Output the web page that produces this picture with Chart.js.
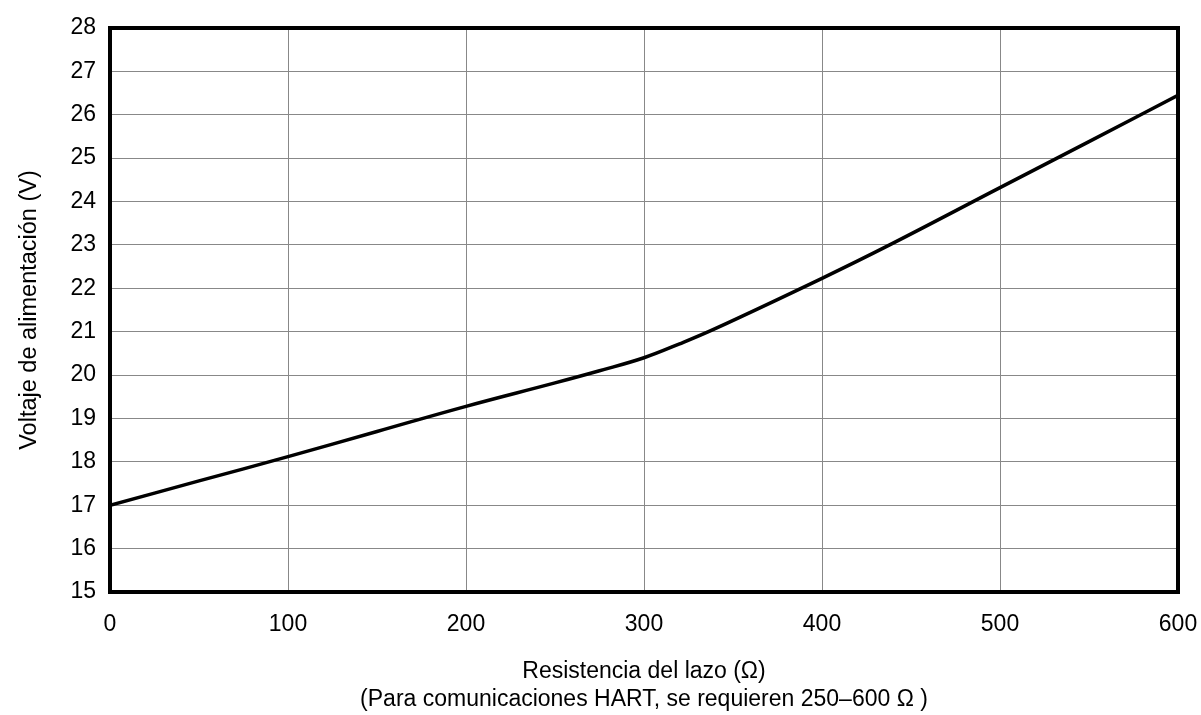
<!DOCTYPE html>
<html>
<head>
<meta charset="utf-8">
<script src="https://cdn.jsdelivr.net/npm/chart.js@4/dist/chart.umd.min.js"></script>
<style>
  html, body { margin: 0; padding: 0; background: #fff; }
  #wrap { width: 1201px; height: 715px; }
</style>
</head>
<body>
<div id="wrap"><canvas id="chart"></canvas></div>
<script>
// loop resistance (ohm) vs supply voltage (V)
const resistance = [0, 50, 100, 150, 200, 250, 275, 300, 320, 340, 400, 438, 500, 550, 600]
const voltage = [17.0, 17.56, 18.12, 18.7, 19.28, 19.82, 20.1, 20.4, 20.72, 21.07, 22.23, 23.0, 24.32, 25.38, 26.45]

const xTitle = ['Resistencia del lazo (Ω)', '(Para comunicaciones HART, se requieren 250–600 Ω )']
const yTitle = 'Voltaje de alimentación (V)'

const fontFamily = '"Liberation Sans", Arial, Helvetica, sans-serif'

// thick black frame round the plot area
const framePlugin = {
  id: 'frame',
  afterDraw(chart) {
    const { ctx, chartArea: a } = chart
    ctx.save()
    ctx.strokeStyle = '#000'
    ctx.lineWidth = 4
    ctx.strokeRect(a.left, a.top, a.right - a.left, a.bottom - a.top)
    ctx.restore()
  }
}

new Chart(document.getElementById('chart'), {
  type: 'line',
  data: {
    datasets: [{
      data: resistance.map((r, i) => ({ x: r, y: voltage[i] })),
      borderColor: '#000',
      borderWidth: 3.5,
      pointRadius: 0,
      fill: false,
      tension: 0.4
    }]
  },
  options: {
    responsive: true,
    maintainAspectRatio: false,
    animation: false,
    layout: { padding: { top: 28, right: 23, left: 0, bottom: 0 } },
    plugins: {
      legend: { display: false },
      tooltip: { enabled: false }
    },
    scales: {
      x: {
        type: 'linear',
        min: 0,
        max: 600,
        afterFit: (s) => {
          s.height = 123
          s.paddingLeft = 0
          s.paddingRight = 0
        },
        ticks: {
          stepSize: 100,
          color: '#000',
          padding: 19,
          font: { family: fontFamily, size: 23 }
        },
        grid: { color: '#888', lineWidth: 1, drawTicks: false },
        border: { display: false },
        title: {
          display: true,
          text: xTitle,
          color: '#000',
          font: { family: fontFamily, size: 23, lineHeight: 1.22 },
          padding: { top: 0, bottom: 1 }
        }
      },
      y: {
        min: 15,
        max: 28,
        afterFit: (s) => { s.width = 110 },
        ticks: {
          stepSize: 1,
          color: '#000',
          padding: 14,
          font: { family: fontFamily, size: 23 }
        },
        grid: { color: '#888', lineWidth: 1, drawTicks: false },
        border: { display: false },
        title: {
          display: true,
          text: yTitle,
          color: '#000',
          font: { family: fontFamily, size: 23.5 },
          padding: { top: 15, bottom: 0 }
        }
      }
    }
  },
  plugins: [framePlugin]
})
</script>
</body>
</html>
